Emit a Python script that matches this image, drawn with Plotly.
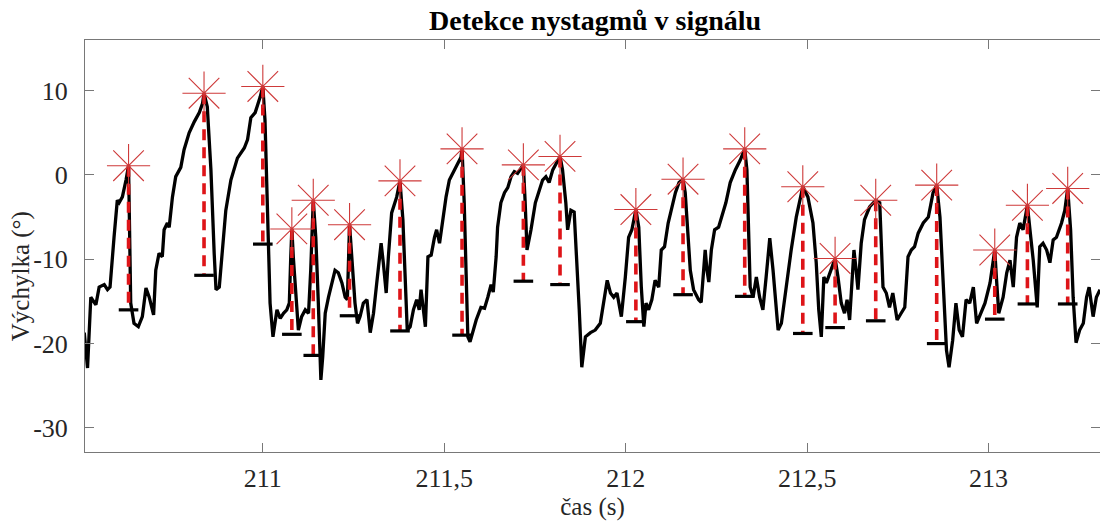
import numpy as np
import plotly.graph_objects as go

# Eye position signal (time in s, deflection in degrees)
sig_t = [
    210.508, 210.517, 210.526, 210.540, 210.549, 210.563, 210.572, 210.579, 210.590, 210.599,
    210.604, 210.613, 210.623, 210.630, 210.636, 210.645, 210.657, 210.668, 210.678, 210.687,
    210.699, 210.705, 210.714, 210.723, 210.728, 210.737, 210.742, 210.751, 210.760, 210.774,
    210.783, 210.797, 210.811, 210.825, 210.834, 210.838, 210.847, 210.857, 210.866, 210.871,
    210.880, 210.889, 210.898, 210.912, 210.930, 210.949, 210.958, 210.967, 210.979, 210.993,
    211.000, 211.006, 211.011, 211.015, 211.020, 211.028, 211.039, 211.048, 211.057, 211.066,
    211.073, 211.077, 211.080, 211.084, 211.092, 211.098, 211.107, 211.117, 211.126, 211.132,
    211.139, 211.146, 211.153, 211.160, 211.165, 211.172, 211.181, 211.190, 211.199, 211.208,
    211.218, 211.227, 211.233, 211.239, 211.245, 211.254, 211.261, 211.268, 211.277, 211.287,
    211.296, 211.305, 211.314, 211.326, 211.332, 211.340, 211.346, 211.355, 211.369, 211.378,
    211.386, 211.392, 211.398, 211.406, 211.415, 211.424, 211.431, 211.436, 211.442, 211.448,
    211.455, 211.464, 211.473, 211.479, 211.487, 211.496, 211.505, 211.514, 211.528, 211.537,
    211.546, 211.549, 211.555, 211.560, 211.565, 211.571, 211.579, 211.588, 211.601, 211.611,
    211.620, 211.629, 211.635, 211.643, 211.647, 211.656, 211.666, 211.675, 211.684, 211.693,
    211.702, 211.718, 211.723, 211.728, 211.739, 211.751, 211.762, 211.771, 211.780, 211.789,
    211.799, 211.808, 211.819, 211.826, 211.835, 211.840, 211.849, 211.858, 211.865, 211.872,
    211.879, 211.889, 211.903, 211.916, 211.930, 211.939, 211.949, 211.958, 211.967, 211.976,
    211.988, 211.999, 212.008, 212.017, 212.028, 212.036, 212.043, 212.050, 212.056, 212.063,
    212.072, 212.081, 212.091, 212.098, 212.107, 212.117, 212.128, 212.137, 212.147, 212.158,
    212.164, 212.172, 212.178, 212.187, 212.201, 212.208, 212.215, 212.219, 212.224, 212.229,
    212.236, 212.245, 212.256, 212.265, 212.276, 212.288, 212.302, 212.316, 212.328, 212.334,
    212.339, 212.343, 212.351, 212.360, 212.369, 212.378, 212.387, 212.397, 212.406, 212.420,
    212.429, 212.442, 212.456, 212.470, 212.484, 212.488, 212.502, 212.516, 212.525, 212.532,
    212.539, 212.546, 212.553, 212.562, 212.577, 212.585, 212.594, 212.603, 212.610, 212.617,
    212.623, 212.629, 212.635, 212.640, 212.649, 212.658, 212.672, 212.689, 212.700, 212.704,
    212.709, 212.718, 212.727, 212.736, 212.741, 212.748, 212.759, 212.769, 212.778, 212.787,
    212.796, 212.806, 212.820, 212.834, 212.847, 212.857, 212.866, 212.875, 212.884, 212.891,
    212.901, 212.910, 212.919, 212.928, 212.938, 212.948, 212.958, 212.967, 212.981, 212.990,
    213.004, 213.017, 213.022, 213.028, 213.040, 213.050, 213.059, 213.068, 213.077, 213.086,
    213.095, 213.107, 213.114, 213.123, 213.134, 213.141, 213.150, 213.160, 213.169, 213.178,
    213.187, 213.201, 213.210, 213.218, 213.226, 213.233, 213.241, 213.251, 213.261, 213.270,
    213.277, 213.288, 213.297, 213.307,
]
sig_v = [
    -18.7, -22.9, -14.5, -15.4, -13.3, -13.0, -13.6, -13.3, -7.4, -3.0,
    -3.3, -2.6, -0.6, 1.1, -15.2, -17.6, -18.0, -16.8, -13.4, -14.5,
    -16.6, -11.3, -9.3, -9.7, -6.5, -5.7, -6.2, -2.6, -0.2, 0.9,
    3.0, 5.0, 6.3, 7.4, 8.5, 9.7, 8.1, 0.6, -9.3, -13.6,
    -13.3, -8.9, -4.2, -0.6, 2.0, 3.2, 4.2, 6.8, 7.4, 9.3,
    10.5, 6.5, -1.4, -9.3, -15.2, -19.2, -16.0, -17.0, -16.4, -16.0,
    -15.2, -9.7, -6.4, -9.7, -15.2, -18.4, -16.8, -16.0, -16.4, -11.3,
    -3.0, -7.4, -15.2, -24.3, -21.6, -16.4, -14.5, -12.8, -11.3, -11.6,
    -12.8, -14.5, -14.8, -5.9, -9.7, -15.2, -17.6, -16.8, -15.2, -14.8,
    -18.7, -16.4, -12.8, -8.1, -10.4, -14.0, -9.7, -4.5, -2.6, -0.7,
    -5.3, -11.3, -18.4, -18.0, -16.0, -14.8, -16.0, -13.6, -15.7, -18.0,
    -9.7, -9.5, -7.4, -6.5, -8.1, -5.0, -2.6, -0.6, 0.6, 1.4,
    2.1, 3.1, -3.3, -11.3, -19.2, -19.8, -18.4, -17.2, -15.7, -15.8,
    -14.5, -13.0, -13.9, -9.7, -6.2, -3.3, -2.1, -1.5, -0.2, 0.4,
    0.2, 1.2, -3.3, -8.9, -6.5, -3.3, -1.8, -0.6, -0.2, -0.9,
    0.6, 1.4, 2.2, 0.6, -3.3, -6.5, -4.2, -4.4, -9.7, -16.0,
    -22.8, -19.2, -18.7, -18.4, -17.6, -15.2, -12.5, -14.0, -14.5, -14.0,
    -16.8, -12.1, -7.4, -6.5, -4.1, -6.2, -13.3, -18.0, -15.2, -16.0,
    -14.8, -12.5, -13.3, -8.9, -8.5, -5.7, -3.8, -2.1, -0.9, -0.5,
    -2.1, -7.4, -11.3, -13.6, -14.8, -15.1, -11.3, -8.9, -11.3, -12.7,
    -8.9, -6.5, -6.2, -5.0, -3.3, -0.9, 0.6, 1.8, 3.1, 0.6,
    -7.4, -13.3, -14.5, -12.1, -14.5, -16.0, -12.1, -7.5, -11.3, -18.4,
    -17.6, -13.3, -8.9, -5.0, -2.1, -1.4, -2.6, -5.7, -10.4, -16.0,
    -19.2, -12.1, -12.8, -11.6, -9.9, -12.1, -15.2, -16.4, -14.8, -17.2,
    -12.8, -8.9, -11.3, -13.6, -8.1, -5.3, -3.8, -3.0, -3.3, -7.4,
    -13.3, -14.0, -15.7, -14.0, -15.2, -17.2, -16.4, -15.7, -9.7, -8.9,
    -8.5, -6.9, -5.7, -5.0, -2.1, -1.2, -5.0, -12.5, -20.8, -22.8,
    -19.6, -15.2, -18.4, -19.2, -14.8, -15.2, -13.3, -17.6, -16.0, -15.2,
    -12.8, -8.9, -12.5, -16.4, -14.5, -11.6, -10.1, -13.3, -7.4, -5.7,
    -6.5, -3.6, -6.5, -10.1, -15.7, -8.5, -8.1, -8.9, -10.4, -7.7,
    -7.4, -5.7, -4.2, -1.6, -6.5, -14.5, -19.9, -18.4, -17.6, -14.5,
    -13.3, -16.8, -14.5, -13.6,
]

# Detected nystagmus beats: time of each peak and the preceding minimum level
peak_t = [210.630, 210.838, 211.000, 211.080, 211.139, 211.239, 211.378, 211.549,
          211.718, 211.819, 212.028, 212.158, 212.328, 212.488, 212.577, 212.689,
          212.857, 213.017, 213.107, 213.218]
min_v = [-16.0, -11.9, -8.2, -18.9, -21.4, -16.7, -18.5, -19.0, -12.6, -13.0,
         -17.4, -14.2, -14.4, -18.8, -18.1, -17.3, -20.0, -17.1, -15.3, -15.3]

x_tickvals = [211, 211.5, 212, 212.5, 213]
x_ticktext = ["211", "211,5", "212", "212,5", "213"]
y_tickvals = [10, 0, -10, -20, -30]
y_ticktext = ["10", "0", "-10", "-20", "-30"]

t = np.array(sig_t)
v = np.array(sig_v)
pt = np.array(peak_t)
pv = np.interp(pt, t, v)  # peak values taken from the signal itself
mv = np.array(min_v)

# vertical amplitude segments from peak down to minimum
seg_x, seg_y = [], []
for a, b, c in zip(pt, pv, mv):
    seg_x += [a, a, None]
    seg_y += [b, c, None]

FONT = "Liberation Serif, Times New Roman, serif"
TXT = "rgb(38,38,38)"
fig = go.Figure()
fig.add_trace(go.Scatter(x=t, y=v, mode="lines",
                         line=dict(color="black", width=3.3), hoverinfo="skip"))
fig.add_trace(go.Scatter(x=seg_x, y=seg_y, mode="lines",
                         line=dict(color="rgb(222,20,24)", width=3.6, dash="11px,7px")))
fig.add_trace(go.Scatter(x=pt, y=mv, mode="markers",
                         marker=dict(symbol="line-ew", size=14, color="black",
                                     line=dict(color="black", width=3.2))))
fig.add_trace(go.Scatter(x=pt, y=pv, mode="markers",
                         marker=dict(symbol="asterisk-open", size=36,
                                     color="rgb(206,58,58)",
                                     line=dict(color="rgb(206,58,58)", width=1.1))))

axis_common = dict(
    showline=True, linecolor="rgb(120,120,120)", linewidth=1, mirror="ticks",
    ticks="inside", ticklen=9, tickwidth=1, tickcolor="rgb(120,120,120)",
    showgrid=False, zeroline=False,
    tickfont=dict(family=FONT, size=26, color=TXT),
)

fig.update_layout(
    width=1100, height=521,
    margin=dict(l=85, r=0, t=40, b=69),
    plot_bgcolor="white", paper_bgcolor="white",
    showlegend=False,
    font=dict(family=FONT, color=TXT),
    title=dict(text="<b>Detekce nystagmů v signálu</b>", x=0.541, xanchor="center",
               y=0.962, yanchor="middle",
               font=dict(family=FONT, size=28, color="black")),
    xaxis=dict(range=[210.51, 213.307], tickvals=x_tickvals, ticktext=x_ticktext,
               ticklabelstandoff=3,
               title=dict(text="čas (s)", standoff=4,
                          font=dict(family=FONT, size=25, color=TXT)),
               **axis_common),
    yaxis=dict(range=[-32.86, 16.01], tickvals=y_tickvals, ticktext=y_ticktext,
               ticklabelstandoff=11, **axis_common),
    annotations=[dict(text="Výchylka (°)", textangle=-90, xref="paper", yref="y",
                      x=-0.063, y=-12, xanchor="center", yanchor="middle",
                      showarrow=False, font=dict(family=FONT, size=25, color=TXT))],
)

fig.write_html("out.html")
